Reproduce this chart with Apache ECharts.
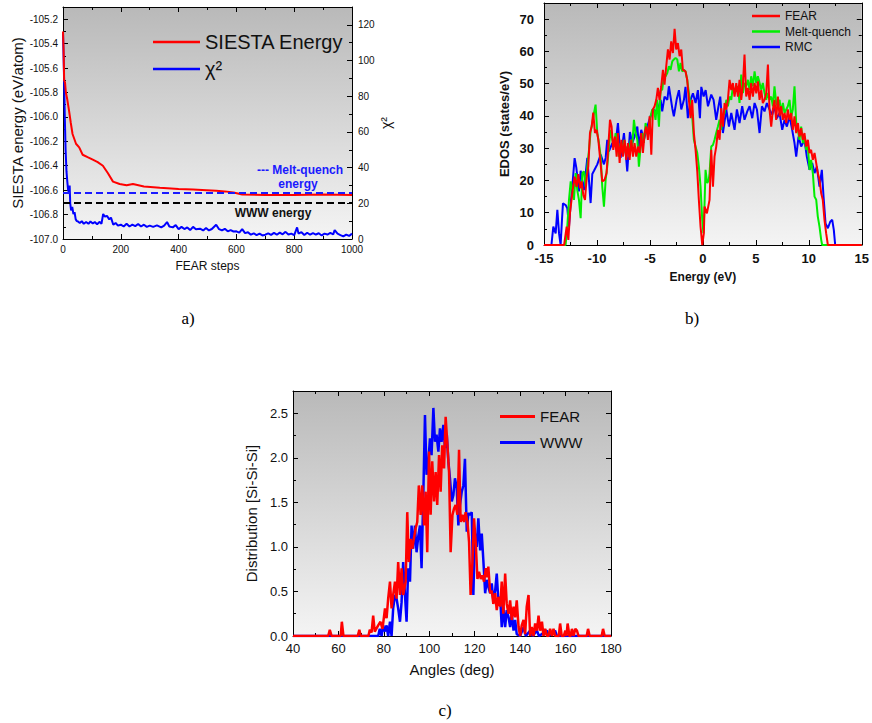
<!DOCTYPE html>
<html>
<head>
<meta charset="utf-8">
<script src="https://cdn.jsdelivr.net/npm/echarts@6/dist/echarts.min.js"></script>
<style>
html,body{margin:0;padding:0;background:#fff;}
#chart{width:872px;height:723px;}
</style>
</head>
<body>
<div id="chart"></div>
<script>
// ---------- Panel a) : SIESTA energy and chi^2 vs FEAR steps ----------
const siestaEnergy = [[0,-105.30],[2,-105.45],[4,-105.70],[7,-105.72],[10,-105.80],[15,-105.86],[21,-105.95],[27,-106.05],[33,-106.14],[45,-106.22],[56,-106.25],[68,-106.31],[85,-106.33],[103,-106.35],[120,-106.37],[138,-106.40],[155,-106.46],[173,-106.53],[196,-106.55],[220,-106.56],[242,-106.55],[280,-106.57],[335,-106.58],[400,-106.59],[450,-106.595],[497,-106.60],[530,-106.605],[560,-106.61],[590,-106.62],[620,-106.635],[700,-106.64],[800,-106.64],[900,-106.635],[1000,-106.64]];
const chiSquared = [[0,116],[3,95],[6,70],[9,50],[12,38],[15,32],[18,27],[21,26.7],[23,30],[25,20],[28,16],[32,18],[36,14],[40,15],[44,11],[48,10],[52,9.8],[58,9],[65,10],[72,8.5],[80,9.5],[88,8.5],[95,9.8],[103,8.7],[110,9.5],[118,8.3],[127,9.6],[133,8.5],[139,14],[145,12.5],[152,13],[160,11],[166,12],[174,8],[182,9],[190,7.5],[200,8],[210,7],[220,8.5],[230,7],[240,8],[250,7.2],[260,8.4],[270,7],[280,8],[290,6.8],[300,7.5],[312,6.8],[325,7.6],[340,6.5],[350,7.5],[360,9.5],[368,7],[380,6.5],[390,7.8],[400,5.5],[410,6.8],[420,5.6],[430,6.5],[440,5],[450,6.8],[460,5.5],[474,5.8],[485,4.8],[495,6.2],[505,4.8],[515,5.6],[530,8],[540,5.5],[550,4.8],[560,5.7],[570,4.3],[580,5],[590,4.2],[600,4.3],[610,3.6],[620,5.5],[630,3.3],[640,3.8],[650,2.4],[660,3.2],[670,2.2],[680,3],[690,2],[700,2.4],[710,3.2],[720,2.3],[730,3.4],[740,2.4],[750,3.6],[760,2.6],[770,4],[780,2.5],[790,3],[800,2.2],[810,6.5],[815,3],[825,3.8],[835,2.2],[845,3.5],[855,2.4],[865,3.3],[875,2.5],[885,3.2],[895,2],[905,3],[915,2.5],[925,3.4],[935,2.6],[940,5],[950,3],[960,2.2],[970,1.5],[980,2.5],[990,1.7],[1000,3]];
const meltQuenchEnergy = -106.62;
const wwwEnergy = -106.70;

// ---------- Panel b) : EDOS ----------
const edosRMC = [[-15,0],[-14.3,0],[-14.12,5.7],[-13.9,3.6],[-13.74,10.9],[-13.58,3.6],[-13.43,0],[-13.3,8],[-13.21,12.9],[-12.96,12.4],[-12.8,11.4],[-12.64,5.7],[-12.5,12],[-12.33,18],[-12.11,26.9],[-11.95,24],[-11.7,16.6],[-11.54,23],[-11.23,17],[-10.91,27],[-10.6,13],[-10.44,22],[-10.28,23],[-9.97,25],[-9.65,28],[-9.34,25],[-9.18,27],[-9.03,32.6],[-8.87,29],[-8.55,31.6],[-8.24,31.6],[-8.02,37.8],[-7.77,27],[-7.45,34.7],[-7.14,22.8],[-6.89,35],[-6.67,31.6],[-6.45,33.6],[-6.19,36.7],[-6.04,30.5],[-5.82,35.7],[-5.57,32.6],[-5.25,36.7],[-4.94,39.9],[-4.62,42],[-4.31,41],[-3.99,45],[-3.84,41.4],[-3.62,46],[-3.36,45],[-3.21,49.2],[-2.89,42.4],[-2.74,39.9],[-2.48,45],[-2.26,48],[-2.04,42],[-1.79,45],[-1.64,49],[-1.42,39.3],[-1.16,45],[-0.94,47],[-0.69,44],[-0.47,48],[-0.28,39.3],[-0.15,49],[0.07,46],[0.26,48],[0.48,43],[0.79,46.6],[1.01,45],[1.26,38.8],[1.42,42],[1.64,46],[1.89,34.7],[2.21,42],[2.46,36.7],[2.68,40.9],[2.99,35.7],[3.21,42],[3.46,37.8],[3.71,43],[3.93,38.8],[4.19,41.4],[4.41,43],[4.66,39.3],[4.88,44],[5.1,42],[5.35,34.7],[5.57,43],[5.82,41.4],[6.04,44],[6.29,42],[6.55,40.4],[6.76,43],[6.98,39.3],[7.24,40.9],[7.49,35.7],[7.71,38.8],[7.93,36.7],[8.18,39.9],[8.43,35.7],[8.65,31.6],[8.81,27.4],[9.03,33.6],[9.28,30.5],[9.59,32.6],[9.81,27.4],[10.07,23.3],[10.32,25.4],[10.54,22.3],[10.76,24.3],[11.01,18.1],[11.23,23.3],[11.39,15],[11.58,6.7],[11.8,5.2],[12.02,7.2],[12.21,7.8],[12.36,4.7],[12.49,0],[15,0]];
const edosMeltQuench = [[-15,0],[-12.96,0],[-12.8,5.7],[-12.64,14],[-12.48,19.7],[-12.33,17],[-12.17,14],[-12.01,22.3],[-11.86,17],[-11.7,14],[-11.54,8.3],[-11.38,22.3],[-11.23,22.8],[-11.07,18],[-10.91,24.3],[-10.75,29.5],[-10.6,35.2],[-10.44,37.8],[-10.28,40.9],[-10.13,43.5],[-9.97,34.7],[-9.81,31.6],[-9.65,27.4],[-9.5,18.1],[-9.34,11.9],[-9.18,20.2],[-9.03,24.3],[-8.87,30.5],[-8.71,35.7],[-8.55,32.6],[-8.4,30.5],[-8.24,34.7],[-8.08,30.5],[-7.92,27.4],[-7.77,31.6],[-7.61,29.5],[-7.45,32.6],[-7.3,28.5],[-7.14,30.5],[-6.98,27.4],[-6.82,32.6],[-6.67,30.5],[-6.51,38.8],[-6.35,34.7],[-6.19,32.6],[-6.04,24.3],[-5.88,30.5],[-5.72,34.7],[-5.57,31.6],[-5.41,37.8],[-5.25,35.7],[-5.09,34.7],[-4.94,39.9],[-4.78,42],[-4.62,42],[-4.47,38.8],[-4.31,45],[-4.15,36.7],[-3.99,48.1],[-3.84,48.1],[-3.68,52.3],[-3.52,52.3],[-3.36,53.3],[-3.21,55.4],[-3.05,54.3],[-2.89,56.9],[-2.74,57.5],[-2.58,58],[-2.42,57.5],[-2.26,53.8],[-2.11,56.4],[-1.95,53.8],[-1.79,54.3],[-1.64,53.8],[-1.48,51.2],[-1.32,47.1],[-1.16,43],[-1.01,39.9],[-0.85,32.6],[-0.69,30.5],[-0.53,28.5],[-0.38,24.3],[-0.22,18.1],[-0.06,7.8],[0.05,3.6],[0.15,12],[0.25,23.3],[0.41,19.2],[0.55,20],[0.63,22.3],[0.79,30.5],[0.95,31],[1.1,32.6],[1.26,34.7],[1.42,36.7],[1.58,38.8],[1.73,35.7],[1.89,39.9],[2.05,40.9],[2.21,45],[2.36,43],[2.52,46],[2.68,45],[2.83,49.2],[2.99,47.1],[3.15,48.1],[3.31,49.2],[3.46,44],[3.62,52.8],[3.78,47.1],[3.93,50.2],[4.09,49.2],[4.25,51.2],[4.41,48.1],[4.56,52.3],[4.72,49.2],[4.88,53.8],[5.04,50.2],[5.19,52.3],[5.35,50.2],[5.51,48.1],[5.66,50.2],[5.82,47.1],[5.98,45],[6.14,47.1],[6.29,45],[6.45,46],[6.61,43],[6.76,49.2],[6.92,44],[7.08,43],[7.24,45],[7.39,40.9],[7.55,44],[7.71,40.9],[7.87,42],[8.02,43],[8.18,45],[8.34,39.9],[8.49,42],[8.65,49.2],[8.81,37.8],[8.97,35.7],[9.12,32.6],[9.28,36.7],[9.44,31.6],[9.59,33.6],[9.75,29.5],[9.91,30.5],[10.07,23.3],[10.22,26.4],[10.38,22.3],[10.54,15],[10.7,14],[10.85,8.8],[11.01,5.7],[11.17,1.6],[11.26,0],[15,0]];
const edosFEAR = [[-15,0],[-13.1,0],[-12.86,5.7],[-12.7,1.6],[-12.55,9.8],[-12.33,16],[-12.11,21.2],[-11.92,18],[-11.76,22],[-11.6,17.6],[-11.45,19.7],[-11.29,15.5],[-11.13,14],[-10.97,21],[-10.82,24.3],[-10.66,34.7],[-10.5,36.7],[-10.35,41],[-10.19,34.7],[-10.03,35.7],[-9.87,32.6],[-9.72,27.4],[-9.5,19.7],[-9.28,20.2],[-9.09,22.3],[-8.93,30.5],[-8.77,38.8],[-8.62,36.7],[-8.46,29.5],[-8.3,33.6],[-8.14,27.4],[-8.02,34.7],[-7.86,25.4],[-7.7,32.6],[-7.55,27.4],[-7.39,32.6],[-7.23,26.4],[-7.08,31.6],[-6.92,26.4],[-6.76,32.6],[-6.6,27.4],[-6.45,31.6],[-6.29,27.4],[-6.13,30.5],[-5.97,28.5],[-5.82,34.7],[-5.66,28.5],[-5.5,34.7],[-5.35,36.7],[-5.19,32.6],[-5.03,39.9],[-4.87,28],[-4.72,42],[-4.56,43],[-4.4,45],[-4.25,48.7],[-4.09,45],[-3.93,49.2],[-3.77,54.3],[-3.62,49.7],[-3.46,55.4],[-3.3,60.6],[-3.14,57.5],[-2.99,63.1],[-2.83,59.5],[-2.67,67],[-2.52,60.6],[-2.36,62.6],[-2.2,58.5],[-2.04,60.6],[-1.89,54.3],[-1.64,53.8],[-1.48,51.2],[-1.32,45],[-1.16,39.3],[-1.01,45],[-0.85,34.7],[-0.69,29.5],[-0.53,22.8],[-0.38,14],[-0.22,5.7],[-0.06,0],[0.09,3.6],[0.16,11.9],[0.38,9.8],[0.63,14],[0.79,29.5],[0.95,18.1],[1.1,27.4],[1.26,30.5],[1.42,35.7],[1.58,32.6],[1.73,42.4],[1.89,36.7],[2.05,44],[2.21,42],[2.36,45],[2.52,51.2],[2.68,48],[2.83,50.2],[2.99,46],[3.15,50.2],[3.31,46],[3.46,51.2],[3.62,45],[3.78,49.7],[3.93,59],[4.09,46],[4.25,48.7],[4.41,45],[4.56,50.2],[4.72,46],[4.88,50.2],[5.04,47],[5.19,50.7],[5.35,45],[5.51,48],[5.66,44],[5.82,45],[5.98,47],[6.14,55.9],[6.29,42],[6.45,36.7],[6.61,42],[6.76,45],[6.92,38.8],[7.08,46],[7.24,39.9],[7.39,43],[7.55,38.8],[7.71,40.9],[7.87,37.8],[8.02,42],[8.18,38.8],[8.34,40.9],[8.49,35.7],[8.65,39.9],[8.81,34.7],[8.97,37.8],[9.12,33.6],[9.28,36.2],[9.44,32.6],[9.59,34.7],[9.75,30.5],[9.91,32.6],[10.07,28.5],[10.22,29.5],[10.38,26.4],[10.54,28.5],[10.7,25.4],[10.85,22.3],[11.01,20.2],[11.17,16],[11.32,14],[11.48,7.8],[11.64,3.6],[11.8,0],[15,0]];

// ---------- Panel c) : Si-Si-Si bond-angle distribution ----------
const angleFEAR = [[40,0],[55.5,0],[56.2,0.07],[57,0],[61,0],[61.5,0.16],[62.2,0],[68.5,0],[69.2,0.07],[69.8,0],[73.2,0],[73.8,0.07],[74.6,0.04],[75.3,0.23],[76,0.05],[77.5,0.12],[78.5,0.16],[79.4,0.08],[80.5,0.31],[81.2,0.2],[81.9,0.42],[82.7,0.61],[83.4,0.31],[84.1,0.46],[84.9,0.61],[85.6,0.42],[86.3,0.83],[87.1,0.46],[87.8,0.76],[88.5,0.46],[89.6,0.61],[90.3,1.39],[91,0.83],[91.8,1.09],[92.5,0.98],[93.2,1.09],[94,1.21],[94.7,1.28],[95.4,1.69],[96.2,1.36],[96.9,1.69],[97.7,1.24],[98.4,1.62],[99.1,0.94],[99.9,2.07],[100.6,1.36],[101.3,1.96],[102.1,1.51],[102.8,1.84],[103.5,1.47],[104.3,2.03],[105,1.62],[105.7,2.14],[106.5,1.88],[107.2,2.46],[107.9,2.18],[108.7,1.84],[109.4,0.94],[110.2,1.36],[110.9,1.43],[111.6,1.47],[112.4,1.36],[113.1,2.09],[113.8,1.28],[114.6,1.36],[115.3,1.28],[116,1.39],[116.8,1.28],[117.5,1.06],[118.2,0.46],[119,0.83],[119.7,1.32],[120.5,1.02],[121.2,0.64],[121.9,0.72],[122.7,0.64],[123.4,0.68],[124.1,0.61],[124.9,0.76],[125.5,0.66],[126,0.78],[126.8,0.48],[127.5,0.51],[128.2,0.36],[129,0.48],[129.7,0.29],[130.4,0.44],[131.2,0.33],[131.9,0.61],[132.6,0.25],[133.4,0.7],[134.1,0.36],[134.9,0.25],[135.6,0.4],[136.3,0.18],[137.1,0.33],[137.8,0.21],[138.5,0.4],[139.3,0.1],[140,0],[140.7,0.12],[141.5,0.18],[142.2,0.02],[142.9,0.33],[143.7,0.46],[144.4,0],[145.1,0.1],[145.9,0],[146.6,0.14],[147.4,0.06],[148.1,0.23],[148.8,0.06],[149.6,0.16],[150.3,0],[151,0.08],[151.8,0],[152.5,0],[153.2,0.08],[154,0],[154.7,0.08],[155.4,0],[157,0],[157.6,0.14],[158.3,0],[159.2,0],[159.9,0.06],[160.4,0],[160.9,0.14],[161.7,0],[162.2,0],[162.8,0.08],[163.5,0],[164.3,0.08],[165,0.06],[165.7,0],[169.3,0],[169.9,0.08],[170.6,0],[175.9,0],[176.5,0.08],[177.2,0],[180,0]];
const angleWWW = [[40,0],[77.5,0],[78.2,0.08],[79,0],[79.7,0.12],[80.5,0.05],[81.2,0.12],[81.9,0],[82.7,0.16],[83.4,0],[84.1,0.31],[84.9,0.46],[85.6,0.42],[86.3,0.31],[87.1,0.16],[87.8,0.38],[88.5,0.83],[89.3,0.46],[90,0.16],[90.7,0.76],[91.5,0.61],[92.2,1.24],[92.9,0.98],[93.7,1.24],[94.4,0.94],[95.2,1.13],[95.9,1.24],[96.6,0.76],[97.4,1.62],[98.1,2.48],[98.8,1.81],[99.6,1.96],[100.3,2.22],[101,2.03],[101.8,2.56],[102.5,2.18],[103.2,2.26],[104,2.07],[104.7,2.33],[105.4,2.18],[106.2,2.37],[106.9,2.11],[107.7,2.26],[108.4,1.96],[109.1,1.77],[109.9,1.51],[110.6,1.58],[111.3,1.77],[112.1,1.66],[112.8,1.24],[113.5,1.47],[114.3,1.62],[115,1.69],[115.7,1.99],[116.5,1.17],[117.2,1.38],[117.9,1.36],[118.7,1.39],[119.4,0.46],[120.1,1.15],[120.9,1.0],[121.6,1.32],[122.4,0.96],[123.1,1.15],[123.8,0.85],[124.6,0.48],[125.3,0.63],[126,0.55],[126.8,0.48],[127.5,0.59],[128.2,0.4],[129,0.51],[129.7,0.7],[130.4,0.4],[131.2,0.44],[131.9,0.1],[132.6,0.33],[133.4,0.1],[134.1,0.29],[134.9,0.21],[135.6,0.1],[136.3,0.25],[137.1,0.06],[137.8,0.18],[138.5,0.02],[140,0],[141.5,0.1],[142.5,0],[144.4,0.06],[145.5,0],[147.4,0.06],[148.3,0],[151.8,0.06],[152.6,0],[155.4,0.06],[156.2,0],[180,0]];

// ---------- labels ----------
const panelLabels = ['a)', 'b)', 'c)'];

const FONT = '"Liberation Sans", Arial, sans-serif';
const bgGrad = () => ({type:'linear', x:0, y:0, x2:0, y2:1, colorStops:[{offset:0, color:'#b9b9b9'},{offset:1, color:'#f4f4f4'}]});

function axisBase(extra) {
  return Object.assign({
    type: 'value',
    splitLine: {show: false},
    axisLine: {show: true, onZero: false, lineStyle: {color: '#000', width: 1}},
    axisTick: {show: true, inside: true, length: 5, lineStyle: {color: '#000'}},
    minorTick: {show: true, splitNumber: 2, length: 3, lineStyle: {color: '#000'}},
    nameTextStyle: {fontFamily: FONT, color: '#000'}
  }, extra);
}
function mirror(extra) {
  return axisBase(Object.assign({axisLabel: {show: false}}, extra));
}
const plain = v => String(v);

const chart = echarts.init(document.getElementById('chart'), null, {renderer: 'svg'});
const option = {
  animation: false,
  backgroundColor: '#fff',
  textStyle: {fontFamily: FONT},
  grid: [
    {left: 63, top: 7, width: 289, height: 232, show: true, backgroundColor: bgGrad(), borderWidth: 0},
    {left: 544, top: 3, width: 318, height: 242, show: true, backgroundColor: bgGrad(), borderWidth: 0},
    {left: 293, top: 391, width: 318, height: 245, show: true, backgroundColor: bgGrad(), borderWidth: 0}
  ],
  xAxis: [
    axisBase({gridIndex: 0, min: 0, max: 1000, interval: 200, position: 'bottom',
      axisLabel: {fontSize: 10, color: '#111', margin: 5, fontFamily: FONT, formatter: plain},
      name: 'FEAR steps', nameLocation: 'middle', nameGap: 21, nameTextStyle: {fontSize: 12, color: '#111', fontFamily: FONT}}),
    mirror({gridIndex: 0, min: 0, max: 1000, interval: 200, position: 'top'}),
    axisBase({gridIndex: 1, min: -15, max: 15, interval: 5, position: 'bottom',
      axisLabel: {fontSize: 13, fontWeight: 'bold', color: '#111', margin: 7, fontFamily: FONT, formatter: plain},
      name: 'Energy (eV)', nameLocation: 'middle', nameGap: 26, nameTextStyle: {fontSize: 12, fontWeight: 'bold', color: '#111', fontFamily: FONT}}),
    mirror({gridIndex: 1, min: -15, max: 15, interval: 5, position: 'top'}),
    axisBase({gridIndex: 2, min: 40, max: 180, interval: 20, position: 'bottom',
      axisLabel: {fontSize: 13, color: '#111', margin: 6, fontFamily: FONT, formatter: plain},
      name: 'Angles (deg)', nameLocation: 'middle', nameGap: 26, nameTextStyle: {fontSize: 15, color: '#111', fontFamily: FONT}}),
    mirror({gridIndex: 2, min: 40, max: 180, interval: 20, position: 'top'})
  ],
  yAxis: [
    axisBase({gridIndex: 0, min: -107, max: -105.1, interval: 0.2, position: 'left',
      axisLabel: {fontSize: 10, color: '#111', margin: 5, showMaxLabel: false, fontFamily: FONT, formatter: v => v.toFixed(1)},
      name: 'SIESTA energy (eV/atom)', nameLocation: 'middle', nameGap: 38, nameTextStyle: {fontSize: 15, color: '#111', fontFamily: FONT}}),
    axisBase({gridIndex: 0, min: 0, max: 130, interval: 20, position: 'right',
      axisLabel: {fontSize: 10, color: '#111', margin: 6, showMaxLabel: false, fontFamily: FONT, formatter: plain},
      name: 'χ²', nameLocation: 'middle', nameGap: 27, nameRotate: 90, nameTextStyle: {fontSize: 14, color: '#111', fontFamily: FONT}}),
    axisBase({gridIndex: 1, min: 0, max: 75, interval: 10, position: 'left',
      axisLabel: {fontSize: 13, fontWeight: 'bold', color: '#111', margin: 10, showMaxLabel: false, fontFamily: FONT, formatter: plain},
      name: 'EDOS (states/eV)', nameLocation: 'middle', nameGap: 33, nameTextStyle: {fontSize: 13, fontWeight: 'bold', color: '#111', fontFamily: FONT}}),
    mirror({gridIndex: 1, min: 0, max: 75, interval: 10, position: 'right'}),
    axisBase({gridIndex: 2, min: 0, max: 2.75, interval: 0.5, position: 'left',
      axisLabel: {fontSize: 13, color: '#111', margin: 5, showMaxLabel: false, fontFamily: FONT, formatter: v => v.toFixed(1)},
      name: 'Distribution [Si-Si-Si]', nameLocation: 'middle', nameGap: 34, nameTextStyle: {fontSize: 15, color: '#111', fontFamily: FONT}}),
    mirror({gridIndex: 2, min: 0, max: 2.75, interval: 0.5, position: 'right'})
  ],
  legend: [
    {data: ['SIESTA Energy', 'χ²'], orient: 'vertical', left: 153, top: 32, padding: 0, itemGap: 7,
      itemWidth: 47, itemHeight: 2.5, icon: 'rect', selectedMode: false,
      textStyle: {fontSize: 20, lineHeight: 20, color: '#111', fontFamily: FONT}},
    {data: ['FEAR', 'Melt-quench', 'RMC'], orient: 'vertical', left: 752, top: 10, padding: 0, itemGap: 3.5,
      itemWidth: 28, itemHeight: 2.5, icon: 'rect', selectedMode: false,
      textStyle: {fontSize: 12, lineHeight: 12, color: '#111', fontFamily: FONT}},
    {data: ['FEAR', 'WWW'], orient: 'vertical', left: 500, top: 409, padding: 0, itemGap: 11,
      itemWidth: 35, itemHeight: 3, icon: 'rect', selectedMode: false,
      textStyle: {fontSize: 15, lineHeight: 15, color: '#111', fontFamily: FONT}}
  ],
  series: [
    {name: 'SIESTA Energy', type: 'line', xAxisIndex: 0, yAxisIndex: 0, data: siestaEnergy,
      showSymbol: false, color: '#ff0000', lineStyle: {width: 2, color: '#ff0000'}, z: 3,
      markLine: {silent: true, symbol: ['none', 'none'], label: {show: false},
        lineStyle: {type: [7, 4], width: 1.8},
        data: [{yAxis: meltQuenchEnergy, lineStyle: {color: '#1a1aff', type: [7, 4], width: 1.8}},
               {yAxis: wwwEnergy, lineStyle: {color: '#000', type: [7, 4], width: 1.8}}]}},
    {name: 'χ²', type: 'line', xAxisIndex: 0, yAxisIndex: 1, data: chiSquared,
      showSymbol: false, color: '#0000ff', lineStyle: {width: 2, color: '#0000ff'}, z: 2},
    {name: 'RMC', type: 'line', xAxisIndex: 2, yAxisIndex: 2, data: edosRMC,
      showSymbol: false, color: '#0000ff', lineStyle: {width: 2, color: '#0000ff'}, z: 2},
    {name: 'Melt-quench', type: 'line', xAxisIndex: 2, yAxisIndex: 2, data: edosMeltQuench,
      showSymbol: false, color: '#00ee00', lineStyle: {width: 2, color: '#00ee00'}, z: 3},
    {name: 'FEAR', type: 'line', xAxisIndex: 2, yAxisIndex: 2, data: edosFEAR,
      showSymbol: false, color: '#ff0000', lineStyle: {width: 2, color: '#ff0000'}, z: 4},
    {name: 'WWW', type: 'line', xAxisIndex: 4, yAxisIndex: 4, data: angleWWW,
      showSymbol: false, color: '#0000ff', lineStyle: {width: 2.5, color: '#0000ff'}, z: 2},
    {name: 'FEAR', type: 'line', xAxisIndex: 4, yAxisIndex: 4, data: angleFEAR,
      showSymbol: false, color: '#ff0000', lineStyle: {width: 2.5, color: '#ff0000'}, z: 3}
  ],
  graphic: [
    {type: 'text', x: 300, y: 170, style: {text: '--- Melt-quench', fill: '#1a1aff', fontSize: 12, fontWeight: 'bold', fontFamily: FONT, align: 'center', verticalAlign: 'middle'}},
    {type: 'text', x: 298, y: 184, style: {text: 'energy', fill: '#1a1aff', fontSize: 12, fontWeight: 'bold', fontFamily: FONT, align: 'center', verticalAlign: 'middle'}},
    {type: 'text', x: 273, y: 213, style: {text: 'WWW energy', fill: '#111', fontSize: 12, fontWeight: 'bold', fontFamily: FONT, align: 'center', verticalAlign: 'middle'}},
    {type: 'text', x: 188, y: 318, style: {text: panelLabels[0], fill: '#000', fontSize: 17, fontFamily: '"Liberation Serif", serif', align: 'center', verticalAlign: 'middle'}},
    {type: 'text', x: 692, y: 318, style: {text: panelLabels[1], fill: '#000', fontSize: 17, fontFamily: '"Liberation Serif", serif', align: 'center', verticalAlign: 'middle'}},
    {type: 'text', x: 445, y: 710, style: {text: panelLabels[2], fill: '#000', fontSize: 17, fontFamily: '"Liberation Serif", serif', align: 'center', verticalAlign: 'middle'}}
  ]
};
chart.setOption(option);
</script>
</body>
</html>
